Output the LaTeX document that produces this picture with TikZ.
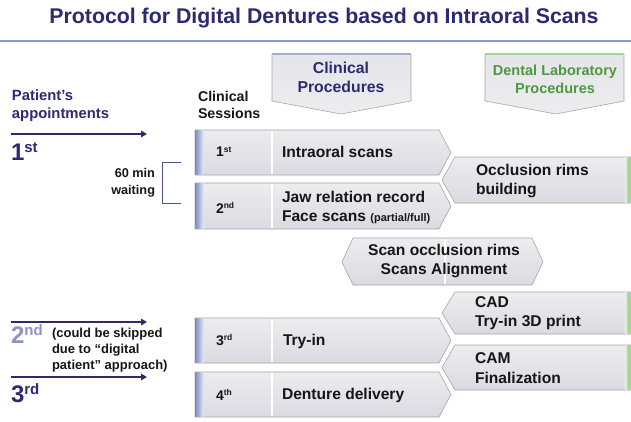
\documentclass[tikz,border=0pt]{standalone}
\usepackage{fontspec}
\setmainfont{Liberation Sans}
\usetikzlibrary{arrows.meta}
\definecolor{navy}{HTML}{2B2A72}
\definecolor{rulebl}{HTML}{9094CC}
\definecolor{boxtop}{HTML}{EDEDF0}
\definecolor{boxbot}{HTML}{DADAE0}
\definecolor{boxline}{HTML}{A6A6AE}
\definecolor{labgreen}{HTML}{4C9A3C}
\definecolor{lightnavy}{HTML}{8C92C8}
\definecolor{stripblue}{HTML}{7E8DC4}
\definecolor{stripgreen}{HTML}{A4D496}
\definecolor{brk}{HTML}{4A52A0}
\definecolor{ink}{HTML}{161616}

% ordinal: digit followed by a smaller suffix whose top lines up with the digit's top
\newcommand\ordn[3]{#1\raisebox{\dimexpr0.72em-0.68\dimexpr#3pt\relax\relax}{\fontsize{#3}{#3}\selectfont #2}}

\tikzset{
  x=1pt, y=-1pt,
  every node/.style={inner sep=0pt, outer sep=0pt},
  boxfill/.style={top color=boxtop, bottom color=boxbot, draw=boxline, line width=0.6pt},
  headfill/.style={top color=boxtop!60!boxbot, bottom color=boxtop, draw=boxline, line width=0.6pt},
  boxtext/.style={text=ink, font={\fontsize{15.6}{19.5}\selectfont\bfseries}, align=left, anchor=west},
  seslabel/.style={text=ink, font={\fontsize{14}{15}\selectfont\bfseries}, anchor=west},
  timeline/.style={draw=navy, line width=1.6pt, -{Triangle[length=6pt,width=6.5pt]}},
  divider/.style={draw=white, line width=1.2pt},
}

\begin{document}
\begin{tikzpicture}
\useasboundingbox[fill=white] (0,0) rectangle (631,421);

% title and rule
\node[text=navy, font={\fontsize{21.3}{24}\selectfont\bfseries}] (title) at (324,18) {Protocol for Digital Dentures based on Intraoral Scans};
\draw[rulebl, line width=1.5pt] (0,41) -- (631,41);

% column headers
\shade[headfill] (272,54) -- (411,54) -- (411,101) -- (341,114) -- (272,101) -- cycle;
\draw[draw=stripblue!70, line width=1.2pt] (272,54) -- (411,54);
\node[text=navy, font={\fontsize{15.8}{19}\selectfont\bfseries}, align=center] (clin) at (341,77) {Clinical\\Procedures};

\shade[headfill] (485,54) -- (624,54) -- (624,101) -- (556,114) -- (485,101) -- cycle;
\draw[draw=stripgreen, line width=1.2pt] (485,54) -- (624,54);
\node[text=labgreen, font={\fontsize{14.5}{18}\selectfont\bfseries}, align=center] (lab) at (555,79) {Dental Laboratory\\Procedures};

% left column headings
\node[text=navy, font={\fontsize{14.8}{18}\selectfont\bfseries}, align=left, anchor=west] (pat) at (12,106) {Patient's\\appointments};
\node[text=ink, font={\fontsize{14.2}{17}\selectfont\bfseries}, align=left, anchor=west] (ses) at (198,105) {Clinical\\Sessions};

% clinical session boxes
\foreach \t/\b in {130/175, 183/229, 318/363, 372/417}{
  \shade[boxfill] (195,\t) -- (439,\t) -- (451,{(\t+\b)/2}) -- (439,\b) -- (195,\b) -- cycle;
  \shade[left color=stripblue, right color=boxtop] (195.3,\t+0.3) rectangle (204,\b-0.3);
  \draw[divider] (272,\t+0.6) -- (272,\b-0.6);
}

% laboratory boxes
\foreach \t/\b in {157/203, 292/334, 345/390}{
  \shade[boxfill] (455,\t) -- (631,\t) -- (631,\b) -- (455,\b) -- (442,{(\t+\b)/2}) -- cycle;
  \shade[left color=boxtop, right color=stripgreen] (625,\t+0.3) rectangle (628,\b-0.3);
  \fill[stripgreen] (628,\t+0.3) rectangle (631,\b-0.3);
}

% scan alignment box
\shade[boxfill] (353,238) -- (532,238) -- (543,262) -- (532,285) -- (353,285) -- (342,262) -- cycle;
\draw[divider] (445,238.6) -- (445,284.4);

% session numbers
\node[seslabel] (s1) at (216,152) {\ordn{1}{st}{8.5}};
\node[seslabel] (s2) at (216,208) {\ordn{2}{nd}{8.5}};
\node[seslabel] (s3) at (216,340) {\ordn{3}{rd}{8.5}};
\node[seslabel] (s4) at (216,395) {\ordn{4}{th}{8.5}};

% clinical procedures
\node[boxtext] (p1) at (282,152) {Intraoral scans};
\node[boxtext] (p2) at (282,207.5) {Jaw relation record\\Face scans {\fontsize{11}{12}\selectfont(partial/full)}};
\node[boxtext] (p3) at (283,341) {Try-in};
\node[boxtext] (p4) at (282,395) {Denture delivery};

% laboratory procedures
\node[boxtext] (l1) at (476,181) {Occlusion rims\\building};
\node[boxtext] (l2) at (475,313) {CAD\\Try-in 3D print};
\node[boxtext] (l3) at (475,368) {CAM\\Finalization};
\node[boxtext, align=center, anchor=center] (sa) at (444,261) {Scan occlusion rims\\Scans Alignment};

% appointments timeline
\coordinate (a1s) at (11,134);  \coordinate (a1e) at (147,134);
\coordinate (a2s) at (11,322);  \coordinate (a2e) at (147,322);
\coordinate (a3s) at (11,377);  \coordinate (a3e) at (147,377);
\draw[timeline] (a1s) -- (a1e);
\draw[timeline] (a2s) -- (a2e);
\draw[timeline] (a3s) -- (a3e);

\node[text=navy, font={\fontsize{24}{24}\selectfont\bfseries}, anchor=base west] (n1) at (11,160) {\ordn{1}{st}{15}};
\node[text=lightnavy, font={\fontsize{24}{24}\selectfont\bfseries}, anchor=base west] (n2) at (11,343) {\ordn{2}{nd}{15}};
\node[text=navy, font={\fontsize{24}{24}\selectfont\bfseries}, anchor=base west] (n3) at (11,402) {\ordn{3}{rd}{15}};
\node[text=ink, font={\fontsize{13}{16.2}\selectfont\bfseries}, align=left, anchor=west] (skip) at (52,350) {(could be skipped\\due to “digital\\patient” approach)};

% waiting bracket
\coordinate (b1) at (181,162); \coordinate (b2) at (181,203);
\draw[brk, line width=1pt] (b1) -- (162,162) -- (162,203) -- (b2);
\node[text=ink, font={\fontsize{12.7}{17}\selectfont\bfseries}, align=right, anchor=east] (wait) at (155,183) {60 min\\waiting};
\end{tikzpicture}
\end{document}
